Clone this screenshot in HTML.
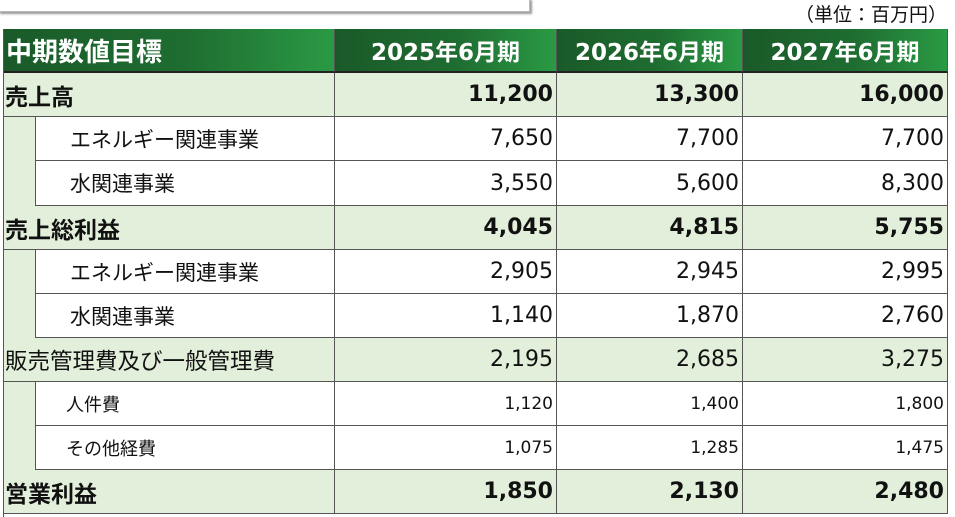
<!DOCTYPE html>
<html><head><meta charset="utf-8"><style>
body{margin:0;width:955px;height:517px;background:#fff;position:relative;overflow:hidden;font-family:"DejaVu Sans","Noto Sans CJK JP",sans-serif;color:#111}
.box{position:absolute;left:-2px;top:-2px;width:530px;height:12px;border:1px solid #bbb;box-shadow:2px 2px 2px #999;background:#fff}
.unit{position:absolute;right:8px;top:3px;font-size:19px;font-family:"Noto Sans CJK JP",sans-serif;line-height:22px}
.c{position:absolute;box-sizing:border-box;border-right:1px solid #555;border-bottom:1px solid #555;display:flex;align-items:center;white-space:nowrap}
.h{background:linear-gradient(90deg,#1a5a29 0%,#1f6d31 55%,#2a9a44 100%);color:#fff;font-weight:bold;font-size:22px;justify-content:center;border-bottom:2px solid #222}
.g{background:#e2efda}
.w{background:#fff}
.r{justify-content:flex-end;padding-right:3px}
.b{font-weight:bold;font-size:22px}
.n{font-size:22px}
.s{font-size:17px}
.l{font-family:"Noto Sans CJK JP",sans-serif}
</style></head><body>
<div class="box"></div>
<div class="unit">（単位：百万円）</div>
<div style="position:absolute;left:3px;top:29px;width:945px;height:1px;background:#555"></div>
<div style="position:absolute;left:3px;top:29px;width:1px;height:488px;background:#555"></div>
<div id="t"></div>
<script>
var cols=[4,335,557,743,948];
var rows=[
["中期数値目標","2025年6月期","2026年6月期","2027年6月期","h",29,73],
["売上高","11,200","13,300","16,000","gb",73,117],
["エネルギー関連事業","7,650","7,700","7,700","wn",117,161],
["水関連事業","3,550","5,600","8,300","wn",161,206],
["売上総利益","4,045","4,815","5,755","gb",206,250],
["エネルギー関連事業","2,905","2,945","2,995","wn",250,294],
["水関連事業","1,140","1,870","2,760","wn",294,338],
["販売管理費及び一般管理費","2,195","2,685","3,275","gn",338,382],
["人件費","1,120","1,400","1,800","ws",382,426],
["その他経費","1,075","1,285","1,475","ws",426,470],
["営業利益","1,850","2,130","2,480","gb",470,514]];
var h="";
rows.forEach(function(r){
 var t=r[4],y=r[5],ht=r[6]-r[5];
 for(var i=0;i<4;i++){
  var x=cols[i],w=cols[i+1]-cols[i],cls="c",st="",txt=r[i];
  if(t=="h"){cls+=" h";if(i==0)st+="justify-content:flex-start;padding-left:2px;font-size:26px;font-family:'Noto Sans CJK JP',sans-serif;";else st+="font-size:23px;";}
  else{
   var bg=t[0],f=t[1];
   if(i==0){
    cls+=" l";
    if(bg=="w"){
      h+='<div class="c g" style="left:4px;top:'+y+'px;width:32px;height:'+ht+'px;border-bottom:none"></div>';
      x=36;w=cols[1]-36;cls+=" w";st+="padding-left:"+(f=="s"?30:34)+"px;";
      st+=(f=="s"?"font-size:18px;":"font-size:21px;");
    }else{cls+=" g"+(f=="b"?" b":" n");st+="padding-left:1px;"+(f=="b"?"font-size:23px;":"font-size:22.5px;");}
   }else{
    cls+=" r "+(bg=="g"?"g":"w")+(f=="b"?" b":(f=="s"?" s":" n"));
   }
  }
  h+='<div class="'+cls+'" style="left:'+x+'px;top:'+y+'px;width:'+w+'px;height:'+ht+'px;'+st+'">'+txt+'</div>';
 }
});
document.getElementById("t").innerHTML=h;
</script>
</body></html>
